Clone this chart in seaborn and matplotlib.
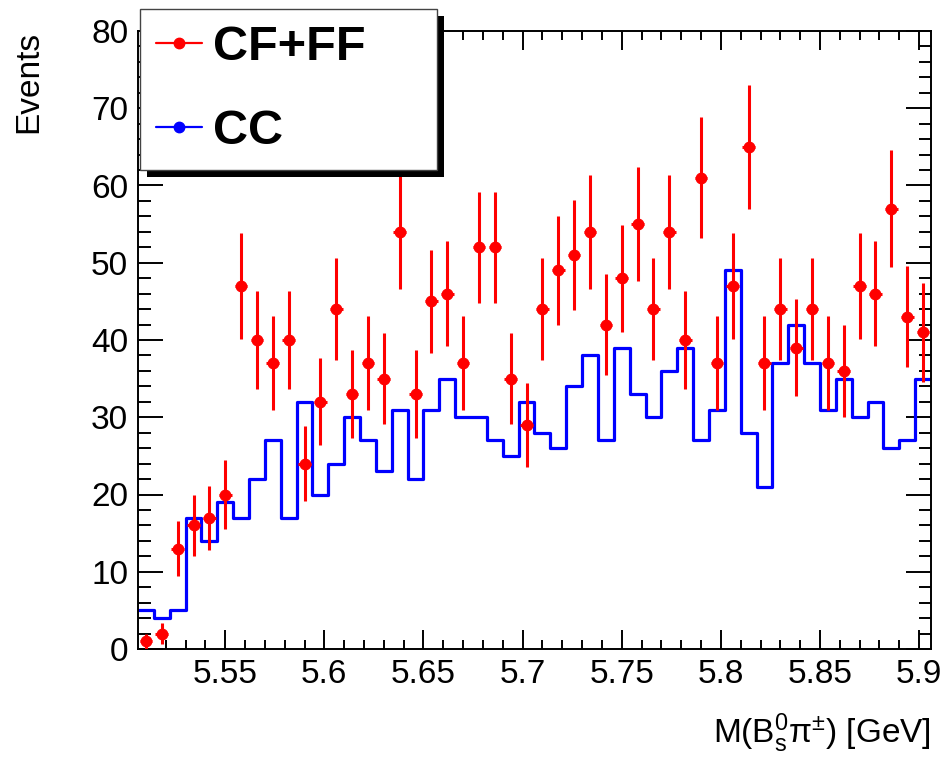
import numpy as np
import pandas as pd
import matplotlib
matplotlib.use("Agg")
import matplotlib.pyplot as plt
import seaborn as sns
from matplotlib.lines import Line2D
from matplotlib.patches import Rectangle
from matplotlib.ticker import MultipleLocator, FuncFormatter

# histogram range (GeV), 50 bins
X_LO, X_HI = 5.506, 5.906
N_BINS = 50

# CF+FF (red points), counts per bin
cf_ff = [1, 2, 13, 16, 17, 20, 47, 40, 37, 40,
         24, 32, 44, 33, 37, 35, 54, 33, 45, 46,
         37, 52, 52, 35, 29, 44, 49, 51, 54, 42,
         48, 55, 44, 54, 40, 61, 37, 47, 65, 37,
         44, 39, 44, 37, 36, 47, 46, 57, 43, 41]

# CC (blue histogram), counts per bin
cc = [5, 4, 5, 17, 14, 19, 17, 22, 27, 17,
      32, 20, 24, 30, 27, 23, 31, 22, 31, 35,
      30, 30, 27, 25, 32, 28, 26, 34, 38, 27,
      39, 33, 30, 36, 39, 27, 31, 49, 28, 21,
      37, 42, 37, 31, 35, 30, 32, 26, 27, 35]

legend_labels = ["CF+FF", "CC"]

edges = np.linspace(X_LO, X_HI, N_BINS + 1)
centers = 0.5 * (edges[:-1] + edges[1:])
width = edges[1] - edges[0]

df = pd.DataFrame({"mass": centers, "cf_ff": cf_ff, "cc": cc})

sns.set_theme(style="ticks")
plt.rcParams["font.family"] = ["Liberation Sans", "DejaVu Sans"]
plt.rcParams["text.color"] = "black"
plt.rcParams["axes.labelcolor"] = "black"
plt.rcParams["mathtext.fontset"] = "custom"
plt.rcParams["mathtext.rm"] = "Liberation Sans"
plt.rcParams["mathtext.it"] = "Liberation Sans:italic"
plt.rcParams["mathtext.bf"] = "Liberation Sans:bold"

W, H = 946, 757
fig = plt.figure(figsize=(W / 100, H / 100), dpi=100)
ax = fig.add_axes([138 / W, 1 - 649 / H, (931 - 138) / W, (649 - 31) / H])

sns.histplot(data=df, x="mass", weights="cc", bins=edges.tolist(), element="step",
             fill=False, color="blue", linewidth=2.3, ax=ax)

ax.errorbar(df["mass"], df["cf_ff"], yerr=np.sqrt(df["cf_ff"]), xerr=0.4 * width,
            fmt="o", color="red", ms=7.5, elinewidth=2.2, capsize=0, zorder=3)

ax.set_xlim(X_LO, X_HI)
ax.set_ylim(0, 80)

ax.xaxis.set_major_locator(MultipleLocator(0.05))
ax.xaxis.set_minor_locator(MultipleLocator(0.01))
ax.xaxis.set_major_formatter(FuncFormatter(lambda v, p: f"{v:g}"))
ax.yaxis.set_major_locator(MultipleLocator(10))
ax.yaxis.set_minor_locator(MultipleLocator(2))

ax.tick_params(which="both", direction="in", top=True, right=True,
               width=1.4, color="black", labelsize=24, labelcolor="black")
ax.tick_params(axis="x", which="major", length=13.5, pad=7)
ax.tick_params(axis="x", which="minor", length=6.5)
ax.tick_params(axis="y", which="major", length=18, pad=7)
ax.tick_params(axis="y", which="minor", length=9)
for sp in ax.spines.values():
    sp.set_linewidth(1.4)
    sp.set_color("black")
    sp.set_visible(True)

ax.set_ylabel("Events", fontsize=24, loc="top", labelpad=34, color="black")
ax.set_xlabel(r"M(B$_{\mathregular{s}}^{\mathregular{0}}$π$^{\mathregular{±}}$) [GeV]",
              fontsize=24, loc="right", labelpad=16, color="black")

handles = [Line2D([], [], color="red", marker="o", ms=7.5, lw=1.6),
           Line2D([], [], color="blue", marker="o", ms=7.5, lw=1.6)]
leg = fig.legend(handles, legend_labels, loc="upper left",
                 bbox_to_anchor=(140 / W, 1 - 9 / H, 297 / W, 0), mode="expand",
                 borderaxespad=0, prop={"weight": "bold", "size": 35},
                 handlelength=0.95, handletextpad=0.22, borderpad=0.33,
                 labelspacing=0.8, fancybox=False, framealpha=1)
leg.get_frame().set_edgecolor("#444444")
leg.get_frame().set_linewidth(1.0)
for t in leg.get_texts():
    t.set_color("black")

# ROOT-style black drop shadow behind the legend box
fig.canvas.draw()
bb = leg.get_window_extent().transformed(fig.transFigure.inverted())
dx, dy = 7 / W, 7 / H
fig.add_artist(Rectangle((bb.x0 + dx, bb.y0 - dy), bb.width, bb.height,
                         transform=fig.transFigure, facecolor="black",
                         edgecolor="none", zorder=leg.get_zorder() - 0.1))

fig.savefig("out.png", dpi=100)
